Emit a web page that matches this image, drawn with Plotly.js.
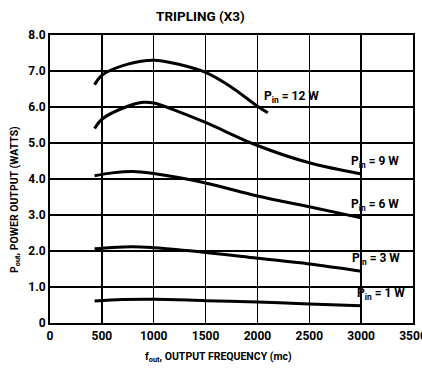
<!DOCTYPE html>
<html>
<head>
<meta charset="utf-8">
<script src="https://cdn.plot.ly/plotly-3.0.1.min.js"></script>
<style>
html,body{margin:0;padding:0;background:#fff;}
#chart{width:422px;height:370px;}
</style>
</head>
<body>
<div id="chart"></div>
<script>
const freq12 = [430, 500, 750, 1000, 1250, 1500, 1750, 2000, 2100];
const pout12 = [6.62, 6.88, 7.19, 7.30, 7.18, 6.96, 6.55, 6.02, 5.84];
const freq9 = [430, 500, 750, 900, 1000, 1250, 1500, 2000, 2500, 3000];
const pout9 = [5.40, 5.66, 6.02, 6.13, 6.11, 5.86, 5.57, 4.93, 4.45, 4.14];
const freq6 = [430, 600, 800, 1000, 1500, 2000, 2500, 3000];
const pout6 = [4.09, 4.17, 4.21, 4.15, 3.89, 3.53, 3.23, 2.92];
const freq3 = [430, 600, 800, 1000, 1500, 2000, 2500, 3000];
const pout3 = [2.06, 2.10, 2.12, 2.09, 1.96, 1.80, 1.64, 1.44];
const freq1 = [430, 700, 1000, 1500, 2000, 2500, 3000];
const pout1 = [0.61, 0.65, 0.66, 0.62, 0.58, 0.53, 0.48];
const curveLabels = ["P<sub>in</sub> = 12 W", "P<sub>in</sub> = 9 W", "P<sub>in</sub> = 6 W", "P<sub>in</sub> = 3 W", "P<sub>in</sub> = 1 W"];
const labelX = [2330, 3130, 3135, 3145, 3190];
const labelY = [6.27, 4.47, 3.28, 1.77, 0.80];
const xTicks = [0, 500, 1000, 1500, 2000, 2500, 3000, 3500];
const xTickText = ["0", "500", "1000", "1500", "2000", "2500", "3000", "3500"];
const yTicks = [0, 1, 2, 3, 4, 5, 6, 7, 8];
const yTickText = ["0", "1.0", "2.0", "3.0", "4.0", "5.0", "6.0", "7.0", "8.0"];
const xTitle = "f<sub>out</sub>, OUTPUT FREQUENCY (mc)";
const yTitle = "P<sub>out</sub>, POWER OUTPUT (WATTS)";

const FONT = "Roboto, Liberation Sans, sans-serif";
const series = [[freq12, pout12], [freq9, pout9], [freq6, pout6], [freq3, pout3], [freq1, pout1]];
const traces = series.map(s => ({
  x: s[0], y: s[1], type: 'scatter', mode: 'lines',
  line: {color: '#000', width: 3, shape: 'spline', smoothing: 1},
  hoverinfo: 'skip', showlegend: false
}));
const annotations = curveLabels.map((t, i) => ({
  x: labelX[i], y: labelY[i], xref: 'x', yref: 'y', text: t, showarrow: false,
  font: {family: FONT, size: 12, color: '#000', weight: 'bold'}
}));
annotations.push({
  text: xTitle, xref: 'paper', yref: 'paper', x: 0.463, y: -0.118,
  xanchor: 'center', yanchor: 'middle', showarrow: false,
  font: {family: FONT, size: 10.5, color: '#000', weight: 'bold'}
});
annotations.push({
  text: yTitle, xref: 'paper', yref: 'paper', x: -0.097, y: 0.43, textangle: -90,
  xanchor: 'center', yanchor: 'middle', showarrow: false,
  font: {family: FONT, size: 10.5, color: '#000', weight: 'bold'}
});
const layout = {
  width: 422, height: 370,
  margin: {l: 50, r: 9, t: 35, b: 47},
  paper_bgcolor: '#fff', plot_bgcolor: '#fff',
  title: {text: 'TRIPLING (X3)', x: 0.475, xanchor: 'center', y: 0.957, yanchor: 'middle',
          font: {family: FONT, size: 13.5, color: '#000', weight: 'bold'}},
  xaxis: {
    range: [0, 3500], tickvals: xTicks, ticktext: xTickText,
    showgrid: true, gridcolor: '#000', gridwidth: 1.3,
    showline: true, linecolor: '#000', linewidth: 2, mirror: true,
    zeroline: false, ticks: '', ticklabelstandoff: 1, ticklabeloverflow: 'allow',
    tickfont: {family: FONT, size: 12, color: '#000', weight: 'bold'}
  },
  yaxis: {
    range: [0, 8], tickvals: yTicks, ticktext: yTickText,
    showgrid: true, gridcolor: '#000', gridwidth: 1.3,
    showline: true, linecolor: '#000', linewidth: 2, mirror: true,
    zeroline: false, ticks: '', ticklabelstandoff: 0,
    tickfont: {family: FONT, size: 12, color: '#000', weight: 'bold'}
  },
  annotations: annotations
};
Plotly.newPlot('chart', traces, layout, {displayModeBar: false, staticPlot: true});
</script>
</body>
</html>
